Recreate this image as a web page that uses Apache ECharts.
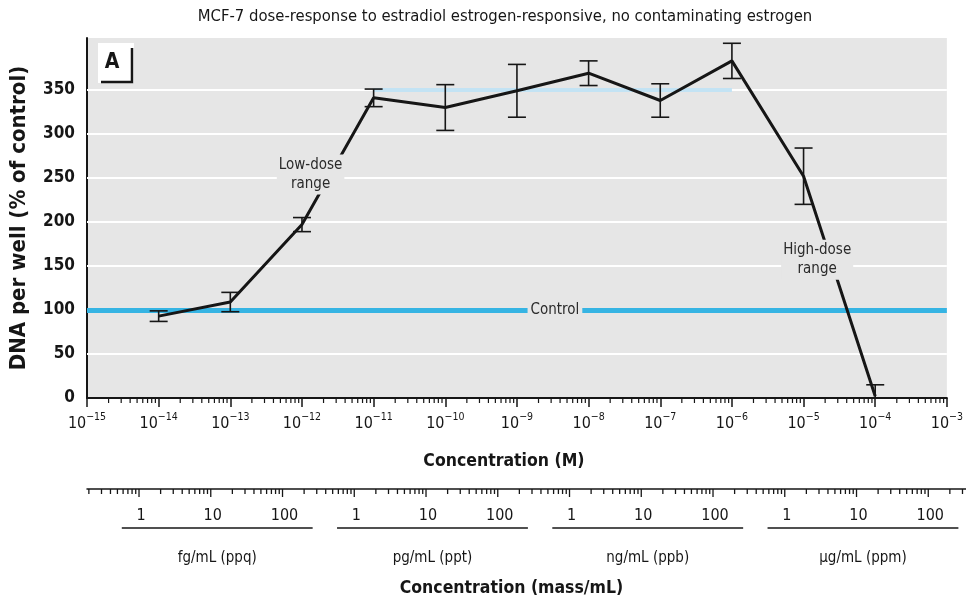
<!DOCTYPE html>
<html>
<head>
<meta charset="utf-8">
<script src="https://cdn.jsdelivr.net/npm/echarts@6/dist/echarts.min.js"></script>
<style>
html, body { margin: 0; padding: 0; background: #fff; }
#chart { width: 966px; height: 600px; }
</style>
</head>
<body>
<div id="chart"></div>
<script>
// concentration (M) and DNA per well (% of control)
var concM = [1e-14, 1e-13, 1e-12, 1e-11, 1e-10, 1e-9, 1e-8, 1e-7, 1e-6, 1e-5, 1e-4];
var dnaPct = [93, 109, 197, 341, 330, 349, 369, 338, 383, 252, 2];
var errPct = [6, 11, 8, 10, 26, 30, 14, 19, 20, 32, 13];

var yTicks = [50, 100, 150, 200, 250, 300, 350];
var xExponents = [-15, -14, -13, -12, -11, -10, -9, -8, -7, -6, -5, -4, -3];
var minorSteps = [2, 3, 4, 5, 6, 7, 8, 9];

var controlLevel = 100;
var plateauLevel = 350;
var plateauFrom = 1e-11;
var plateauTo = 1e-6;

// lower axis: mass per mL (log10 g/mL of the "1" of each unit)
var massGroups = ['fg/mL (ppq)', 'pg/mL (ppt)', 'ng/mL (ppb)', '\u00b5g/mL (ppm)'];
var massGroupStart = [-15, -12, -9, -6];
var massLabels = ['1', '10', '100'];
var massMin = -15.725, massMax = -3.474;

var FONT = "'Liberation Sans Narrow', 'DejaVu Sans Condensed', 'Liberation Sans', sans-serif";
var INK = '#161616';
var PLOT_BG = '#e6e6e6';

var chart = echarts.init(document.getElementById('chart'));

// minor ticks on the molar axis
var mainMinor = [];
xExponents.slice(0, -1).forEach(function (e) {
  minorSteps.forEach(function (k) { mainMinor.push([k * Math.pow(10, e), 0]); });
});

// ticks on the mass axis (log10 units)
var massTicks = [];
for (var n = -16; n <= -3; n++) {
  [1].concat(minorSteps).forEach(function (k) {
    var v = n + Math.log10(k);
    if (v >= massMin && v <= massMax) massTicks.push([v, k === 1 ? 1 : 0]);
  });
}
var massLabelData = [];
massGroupStart.forEach(function (s) {
  massLabels.forEach(function (t, i) { massLabelData.push({ value: [s + i, 0], name: t }); });
});
var massGroupData = massGroupStart.map(function (s, i) {
  return { value: [s - 0.24, s + 2.42], name: massGroups[i] };
});

var errData = concM.map(function (c, i) {
  return [c, dnaPct[i] - errPct[i], dnaPct[i] + errPct[i]];
});
var lineData = concM.map(function (c, i) { return [c, dnaPct[i]]; });

var supDigits = function (v) {
  var e = Math.round(Math.log10(v));
  return '{b|10}{s|' + (e < 0 ? '\u2212' : '') + Math.abs(e) + '}';
};

var option = {
  animation: false,
  textStyle: { fontFamily: FONT, color: INK },
  graphic: [
    {
      type: 'text', x: 505, y: 17, z: 10,
      style: {
        text: 'MCF-7 dose-response to estradiol estrogen-responsive, no contaminating estrogen',
        font: '16.5px ' + FONT, fill: INK, align: 'center', verticalAlign: 'middle'
      }
    },
    // panel letter box
    { type: 'rect', shape: { x: 98, y: 43, width: 36, height: 40 }, style: { fill: '#fff' }, z: 10 },
    { type: 'text', x: 112, y: 63, z: 11,
      style: { text: 'A', font: 'bold 21px ' + FONT, fill: INK, align: 'center', verticalAlign: 'middle' } },
    { type: 'polyline', z: 11, shape: { points: [[132, 48], [132, 82], [101, 82]] },
      style: { stroke: INK, lineWidth: 2.5, fill: null } }
  ],
  grid: [
    { left: 87, right: 18, top: 38, bottom: 202, show: true, backgroundColor: PLOT_BG, borderWidth: 0 },
    { left: 87, right: 0, top: 487, height: 2 }
  ],
  xAxis: [
    {
      type: 'log', logBase: 10, gridIndex: 0,
      min: 1e-15, max: 1e-3, interval: 1,
      name: 'Concentration (M)', nameLocation: 'middle', nameGap: 54,
      nameTextStyle: { fontSize: 17.5, fontWeight: 'bold', color: INK, padding: [0, 26, 0, 0] },
      axisLine: { show: true, onZero: false, lineStyle: { color: INK, width: 2 } },
      axisTick: { show: true, length: 9, lineStyle: { color: INK, width: 1.5 } },
      splitLine: { show: false },
      minorTick: { show: false },
      axisLabel: {
        margin: 14, color: INK, formatter: supDigits,
        rich: {
          b: { fontSize: 16, lineHeight: 20, verticalAlign: 'bottom', fontFamily: FONT, color: INK },
          s: { fontSize: 10.5, lineHeight: 12, verticalAlign: 'top', fontFamily: FONT, color: INK }
        }
      }
    },
    {
      type: 'value', gridIndex: 1, min: massMin, max: massMax,
      name: 'Concentration (mass/mL)', nameLocation: 'middle', nameGap: 90,
      nameTextStyle: { fontSize: 17.5, fontWeight: 'bold', color: INK, padding: [0, 30, 0, 0] },
      axisLine: { show: true, lineStyle: { color: INK, width: 1.5 } },
      axisTick: { show: false }, axisLabel: { show: false }, splitLine: { show: false }
    }
  ],
  yAxis: [
    {
      type: 'value', gridIndex: 0, min: 0, max: 409, interval: 50,
      name: 'DNA per well (% of control)', nameLocation: 'middle', nameGap: 57,
      nameTextStyle: { fontSize: 22, fontWeight: 'bold', color: INK },
      axisLine: { show: true, lineStyle: { color: INK, width: 2 } },
      axisTick: { show: false },
      splitLine: { show: false },
      axisLabel: {
        margin: 12, fontSize: 17, fontWeight: 'bold', color: INK,
        showMaxLabel: false,
        formatter: function (v) { return v <= 350 ? String(v) : ''; }
      }
    },
    { type: 'value', gridIndex: 1, min: 0, max: 1, show: false }
  ],
  series: [
    {
      // white gridlines, control line and the plateau band
      name: 'reference', type: 'line', data: [], xAxisIndex: 0, yAxisIndex: 0,
      markLine: {
        z: 1, silent: true, symbol: 'none', animation: false,
        data: yTicks.map(function (v) {
          return { yAxis: v, lineStyle: { color: '#ffffff', width: 2, type: 'solid' }, label: { show: false } };
        }).concat([
          [
            { coord: [plateauFrom, plateauLevel], lineStyle: { color: '#c3e3f4', width: 4, type: 'solid' }, label: { show: false } },
            { coord: [plateauTo, plateauLevel] }
          ],
          {
            yAxis: controlLevel,
            lineStyle: { color: '#36b4e3', width: 5, type: 'solid' },
            label: {
              show: true, position: 'middle', formatter: 'Control', distance: 0,
              verticalAlign: 'middle', offset: [38, 0],
              fontSize: 15, color: '#2a2a2a', fontFamily: FONT,
              backgroundColor: PLOT_BG, padding: [1, 3]
            }
          }
        ])
      }
    },
    {
      name: 'DNA', type: 'line', z: 3, xAxisIndex: 0, yAxisIndex: 0,
      data: lineData, symbol: 'none',
      lineStyle: { color: INK, width: 3 },
      markPoint: {
        z: 6, symbol: 'rect', symbolSize: 1, itemStyle: { color: 'rgba(0,0,0,0)' },
        label: {
          show: true, position: 'inside', color: '#2a2a2a', fontSize: 15, lineHeight: 19,
          fontFamily: FONT, backgroundColor: PLOT_BG, padding: [1, 2], align: 'center'
        },
        data: [
          { coord: [Math.pow(10, -11.88), 254], value: 'Low-dose\nrange', label: { formatter: 'Low-dose\nrange' } },
          { coord: [Math.pow(10, -4.81), 157], value: 'High-dose\nrange', label: { formatter: 'High-dose\nrange' } }
        ]
      }
    },
    {
      name: 'error', type: 'custom', z: 4, xAxisIndex: 0, yAxisIndex: 0, clip: true,
      data: errData,
      renderItem: function (params, api) {
        var lo = api.coord([api.value(0), api.value(1)]);
        var hi = api.coord([api.value(0), api.value(2)]);
        var w = 9;
        var st = { stroke: INK, lineWidth: 1.6 };
        return {
          type: 'group',
          children: [
            { type: 'line', shape: { x1: hi[0], y1: hi[1], x2: lo[0], y2: lo[1] }, style: st },
            { type: 'line', shape: { x1: hi[0] - w, y1: hi[1], x2: hi[0] + w, y2: hi[1] }, style: st },
            { type: 'line', shape: { x1: lo[0] - w, y1: lo[1], x2: lo[0] + w, y2: lo[1] }, style: st }
          ]
        };
      }
    },
    {
      name: 'minorTicks', type: 'custom', z: 4, xAxisIndex: 0, yAxisIndex: 0, clip: false, silent: true,
      data: mainMinor,
      renderItem: function (params, api) {
        var p = api.coord([api.value(0), 0]);
        return { type: 'line', shape: { x1: p[0], y1: p[1], x2: p[0], y2: p[1] + 5 }, style: { stroke: INK, lineWidth: 1.2 } };
      }
    },
    {
      name: 'massTicks', type: 'custom', xAxisIndex: 1, yAxisIndex: 1, clip: false, silent: true,
      data: massTicks,
      renderItem: function (params, api) {
        var p = api.coord([api.value(0), 0]);
        var len = api.value(1) ? 8 : 5;
        return { type: 'line', shape: { x1: p[0], y1: p[1], x2: p[0], y2: p[1] + len }, style: { stroke: INK, lineWidth: 1.3 } };
      }
    },
    {
      name: 'massLabels', type: 'custom', xAxisIndex: 1, yAxisIndex: 1, clip: false, silent: true,
      data: massLabelData,
      renderItem: function (params, api) {
        var p = api.coord([api.value(0), 0]);
        return {
          type: 'text', x: p[0] + 2, y: p[1] + 27,
          style: { text: massLabelData[params.dataIndex].name, font: '16px ' + FONT, fill: INK, align: 'center', verticalAlign: 'middle' }
        };
      }
    },
    {
      name: 'massGroups', type: 'custom', xAxisIndex: 1, yAxisIndex: 1, clip: false, silent: true,
      data: massGroupData,
      renderItem: function (params, api) {
        var a = api.coord([api.value(0), 0]);
        var b = api.coord([api.value(1), 0]);
        return {
          type: 'group',
          children: [
            { type: 'line', shape: { x1: a[0], y1: a[1] + 39, x2: b[0], y2: b[1] + 39 }, style: { stroke: INK, lineWidth: 1.6 } },
            {
              type: 'text', x: (a[0] + b[0]) / 2, y: a[1] + 69,
              style: { text: massGroupData[params.dataIndex].name, font: '15px ' + FONT, fill: INK, align: 'center', verticalAlign: 'middle' }
            }
          ]
        };
      }
    }
  ]
};

chart.setOption(option);
</script>
</body>
</html>
